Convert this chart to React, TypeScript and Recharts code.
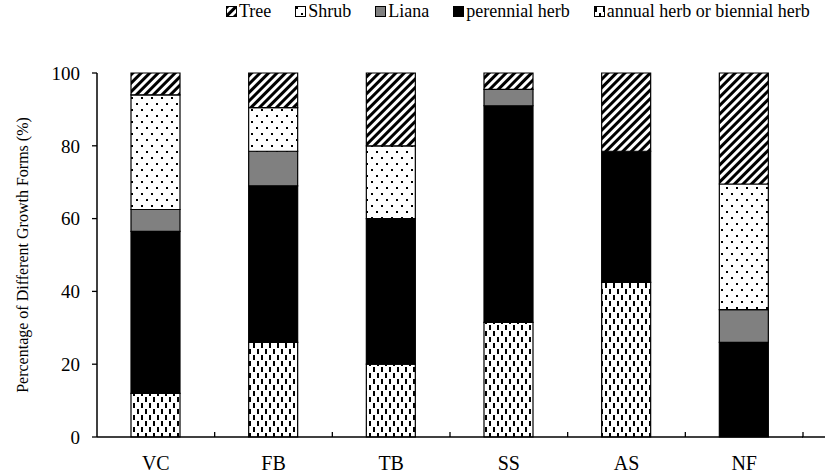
import { BarChart, Bar, XAxis, YAxis } from 'recharts';

const categories = ['VC', 'FB', 'TB', 'SS', 'AS', 'NF'];
const annualHerb = [12, 26, 20, 31.5, 42.5, 0];
const perennialHerb = [44.5, 43, 40, 59.5, 36, 26];
const liana = [6, 9.5, 0, 4.5, 0, 9];
const shrub = [31.5, 12, 20, 0, 0, 34.5];
const tree = [6, 9.5, 20, 4.5, 21.5, 30.5];
const yTicks = [0, 20, 40, 60, 80, 100];

const series = [
  { key: 'annual', name: 'annual herb or biennial herb', fill: 'url(#pat-annual)' },
  { key: 'perennial', name: 'perennial herb', fill: '#000000' },
  { key: 'liana', name: 'Liana', fill: '#808080' },
  { key: 'shrub', name: 'Shrub', fill: 'url(#pat-shrub)' },
  { key: 'tree', name: 'Tree', fill: 'url(#pat-tree)' },
];

const data = categories.map((c, i) => ({
  name: c,
  annual: annualHerb[i],
  perennial: perennialHerb[i],
  liana: liana[i],
  shrub: shrub[i],
  tree: tree[i],
}));

const FONT = 'Times New Roman, Liberation Serif, DejaVu Serif, serif';

function Patterns() {
  return (
    <defs>
      <pattern id="pat-tree" patternUnits="userSpaceOnUse" width="6" height="6" patternTransform="rotate(45)">
        <rect x="0" y="0" width="6" height="6" fill="#fff" />
        <rect x="0" y="0" width="3" height="6" fill="#000" />
      </pattern>
      <pattern id="pat-shrub" patternUnits="userSpaceOnUse" width="10" height="12">
        <rect x="0" y="0" width="10" height="12" fill="#fff" />
        <rect x="1" y="1" width="2" height="2" fill="#000" />
        <rect x="6" y="7" width="2" height="2" fill="#000" />
      </pattern>
      <pattern id="pat-annual" patternUnits="userSpaceOnUse" width="8" height="12">
        <rect x="0" y="0" width="8" height="12" fill="#fff" />
        <rect x="1" y="1" width="2" height="5" fill="#000" />
        <rect x="5" y="7" width="2" height="5" fill="#000" />
      </pattern>
    </defs>
  );
}

// category labels, with Excel-style tick marks between the categories
function XTick(props: any) {
  const { x, y, payload, index } = props;
  const half = payload && payload.offset ? payload.offset : 59;
  const last = index === categories.length - 1;
  return (
    <g>
      <line x1={x + half} x2={x + half} y1={y} y2={y - 5} stroke="#000" strokeWidth={1.3} />
      {last && <line x1={x + half - 1} x2={x + half + 22} y1={y} y2={y} stroke="#000" strokeWidth={1.5} />}
      <text x={x} y={y + 19} dy="0.71em" textAnchor="middle" fontFamily={FONT} fontSize={20} fill="#000">
        {payload.value}
      </text>
    </g>
  );
}

function YTitle(props: any) {
  const vb = props.viewBox || { x: 0, y: 73, width: 97, height: 364 };
  const cy = vb.y + vb.height / 2;
  return (
    <text
      x={22}
      y={cy}
      transform={`rotate(-90, 22, ${cy})`}
      textAnchor="middle"
      dominantBaseline="central"
      fontFamily={FONT}
      fontSize={16}
      fill="#000"
    >
      Percentage of Different Growth Forms (%)
    </text>
  );
}

function LegendIcon({ fill }: { fill: string }) {
  return (
    <svg width={11} height={11} style={{ marginRight: 2 }}>
      <rect x={0.5} y={0.5} width={10} height={10} fill={fill} stroke="#000" strokeWidth={1} />
    </svg>
  );
}

export default function App() {
  const legendItems = [...series].reverse();
  return (
    <div style={{ position: 'absolute', left: 0, top: 0, width: 828, height: 474, overflow: 'hidden', background: '#fff' }}>
      <div
        style={{
          position: 'absolute',
          top: 1,
          left: 226,
          display: 'flex',
          alignItems: 'center',
          gap: 24,
          fontFamily: FONT,
          fontSize: 18,
          color: '#000',
          whiteSpace: 'nowrap',
        }}
      >
        {legendItems.map((s) => (
          <span key={s.key} style={{ display: 'flex', alignItems: 'center' }}>
            <LegendIcon fill={s.fill} />
            {s.name}
          </span>
        ))}
      </div>
      <BarChart
        width={828}
        height={474}
        data={data}
        margin={{ top: 73, right: 25, bottom: 0, left: 0 }}
        barSize={49}
      >
        <Patterns />
        <XAxis
          dataKey="name"
          axisLine={{ stroke: '#000', strokeWidth: 1.5 }}
          tickLine={false}
          tickSize={0}
          tickMargin={0}
          tick={<XTick />}
          interval={0}
          height={37}
        />
        <YAxis
          domain={[0, 100]}
          ticks={yTicks}
          width={97}
          axisLine={{ stroke: '#000', strokeWidth: 1.5 }}
          tickLine={{ stroke: '#000', strokeWidth: 1.3 }}
          tickSize={5}
          tickMargin={12}
          tick={{ fontFamily: FONT, fontSize: 19, fill: '#000' }}
          label={{ content: (p: any) => <YTitle {...p} /> }}
        />
        {series.map((s) => (
          <Bar
            key={s.key}
            dataKey={s.key}
            name={s.name}
            stackId="a"
            fill={s.fill}
            stroke="#000"
            strokeWidth={1.2}
            isAnimationActive={false}
          />
        ))}
      </BarChart>
    </div>
  );
}
